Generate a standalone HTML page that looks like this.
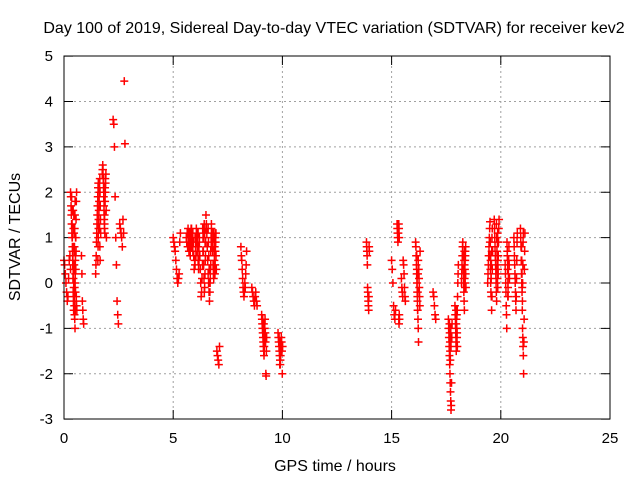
<!DOCTYPE html>
<html><head><meta charset="utf-8"><style>
body{margin:0;background:#fff}
svg{display:block;font-family:"Liberation Sans",sans-serif}
</style></head><body>
<svg id="chart" width="640" height="480" viewBox="0 0 640 480">
<text x="334" y="33" font-size="16" text-anchor="middle">Day 100 of 2019, Sidereal Day-to-day VTEC variation (SDTVAR) for receiver kev2</text>
<text transform="translate(20,237) rotate(-90)" font-size="16" text-anchor="middle">SDTVAR / TECUs</text>
<text x="335" y="471" font-size="16" text-anchor="middle">GPS time / hours</text>
<g id="grid"></g>
<g id="ticks"></g>
<g id="pts"></g>
<rect x="64" y="56" width="546" height="363" fill="none" stroke="#000" stroke-width="1"/>
</svg>
<script>
const xTicks=[0,5,10,15,20,25];
const yTicks=[-3,-2,-1,0,1,2,3,4,5];
// tracks: start time (h), step (h), SDTVAR values (TECU)
const trackStarts=[0.0,0.3,0.42,0.8,1.45,1.75,2.25,2.55,5.0,5.6,5.9,6.2,6.5,6.75,7.0,8.1,8.6,9.05,9.8,13.85,15.0,15.25,15.45,16.1,16.9,17.6,17.9,18.2,19.4,19.7,20.2,20.6,20.9,
 0.35,1.55,1.8,5.7,6.0,6.35,6.6,6.85,9.1,9.85,15.3,16.15,17.65,17.95,18.3,19.5,19.8,20.3,20.95,0.45];
const trackSteps=[0.03,0.012,0.012,0.02,0.012,0.012,0.03,0.03,0.03,0.02,0.02,0.02,0.02,0.015,0.03,0.02,0.03,0.012,0.015,0.01,0.03,0.01,0.02,0.012,0.03,0.012,0.012,0.012,0.015,0.012,0.012,0.012,0.012,
 0.01,0.01,0.01,0.02,0.02,0.015,0.015,0.012,0.01,0.01,0.01,0.01,0.01,0.01,0.01,0.012,0.012,0.012,0.01,0.01];
const trackValues=[
[0.5,0.4,0.2,0,-0.2,-0.4,-0.3,0.1,0.5,0.6,0.3],
[2.0,1.9,1.7,1.5,1.3,1.1,1.0,0.8,0.6,0.5,0.3,0.1,-0.1,-0.3,-0.5,-0.7,-0.5,-0.2,0.2,0.6,1.0,1.4,1.8,2.0],
[1.6,1.2,0.8,0.4,0,-0.4,-0.8,-1.0,-0.6,-0.2,0.3,0.7,-0.3,-0.5,-0.6],
[0.6,0.2,-0.4,-0.6,-0.8,-0.9],
[0.2,0.4,0.6,0.9,1.1,1.3,1.5,1.7,1.9,2.1,2.2,1.4,1.6,1.8,2.0,1.2,0.8,0.5],
[2.4,2.5,2.6,2.5,2.3,2.1,1.9,1.7,1.5,1.3,1.1,1.8,2.0,2.2,2.4,1.6,1.0],
[3.6,3.5,3.0,1.9,1.0,0.4,-0.4,-0.7,-0.9],
[1.3,1.2,1.1,1.0,0.8,1.4,1.1,4.45,3.07],
[1.0,0.9,0.8,0.7,0.5,0.3,0.1,0.0,0.1,0.2,0.9,1.1],
[1.0,0.9,1.1,0.8,1.2,1.0,0.7,0.9,1.1,0.6,1.0,0.8,1.2,0.9,1.1,0.7],
[1.1,0.9,0.6,0.3,0.5,0.4,0.8,1.0,1.2,0.9,0.7,1.0,1.1,0.8,0.5,0.6],
[0.9,0.6,0.3,0.0,-0.3,-0.2,0.1,0.4,0.7,1.0,1.2,1.3,1.1,0.9,0.6],
[1.5,1.3,1.1,0.8,0.5,0.2,0.0,-0.2,-0.4,-0.2,0.1,0.4,0.8,1.1],
[1.2,1.0,1.1,0.9,0.7,0.4,0.2,0.1,0.3,0.5,0.8,1.0,1.1,0.9,0.6,0.3],
[-1.5,-1.6,-1.7,-1.8,-1.4],
[0.8,0.6,0.5,0.3,0.1,-0.1,-0.2,-0.3,-0.2,0.0,-0.1,0.2,0.4,0.7],
[-0.1,-0.2,-0.3,-0.4,-0.5,-0.3,-0.2,-0.4,-0.5],
[-0.7,-0.8,-0.9,-1.0,-1.1,-1.2,-1.3,-1.4,-1.5,-1.6,-1.4,-1.2,-1.0,-0.8,-1.1,-1.3,-2.0,-2.05,-1.5,-1.2],
[-1.1,-1.2,-1.3,-1.4,-1.5,-1.6,-1.7,-1.8,-1.6,-1.4,-1.2,-1.3,-1.5,-2.0,-1.4],
[0.9,0.8,0.7,0.6,0.4,-0.1,-0.2,-0.3,-0.4,-0.5,-0.6,-0.3,0.8,0.7],
[0.5,0.3,0.0,-0.5,-0.7,-0.8,-0.6],
[1.3,1.2,1.1,1.0,0.9,1.2,1.3,1.0,-0.8,-0.9,-0.7,-0.8],
[0.1,-0.1,-0.2,-0.3,0.5,0.4,0.2,-0.1,-0.3,-0.4],
[0.9,0.8,0.6,0.4,0.2,0.0,-0.2,-0.4,-0.6,-0.8,-1.0,-1.3,0.3,0.1,-0.1,-0.3,-0.5,0.7],
[-0.2,-0.3,-0.5,-0.7,-0.8],
[-0.8,-1.0,-1.2,-1.4,-1.6,-1.8,-2.0,-2.2,-2.4,-2.6,-2.8,-2.7,-2.2,-1.2,-0.9],
[-0.5,-0.7,-0.9,-1.1,-1.3,-1.5,-0.8,-1.0,-1.2,-0.6,-0.3,0.0,0.2,0.4],
[0.0,0.2,0.4,0.6,0.8,0.9,0.6,0.3,0.0,-0.2,-0.4,-0.6,0.1,0.3,0.5,0.7,0.2,-0.1],
[0.0,0.2,0.4,0.6,0.8,1.0,1.2,1.35,0.9,0.5,0.1,-0.3,-0.6,-0.3,0.3,0.7],
[1.4,1.2,1.0,0.8,0.6,0.4,0.2,0.0,-0.2,-0.4,0.3,0.6,0.9,1.1,0.5,0.2],
[0.4,0.2,0.0,-0.2,-0.5,-0.7,-1.0,0.9,0.7,0.5,-0.3,-0.1],
[1.0,0.8,0.6,0.4,0.2,0.0,-0.2,-0.4,-0.6,-0.3,0.1,0.5,0.9,1.1],
[1.2,1.0,0.8,0.5,0.2,0.0,-0.2,-0.6,-1.0,-1.2,-1.4,-1.6,-2.0,-1.3,-0.8,0.3,0.7,1.1],
[1.9,1.6,1.3,1.0,0.7,0.4,0.1,-0.2,-0.4,-0.6,-0.3,0.0,0.4,0.8,1.2,1.5,1.8],
[0.5,0.8,1.0,1.2,1.4,1.6,1.8,2.0,2.2,2.3,2.0,1.7,1.4,1.1],
[2.3,2.1,1.9,1.6,1.4,1.2,1.5,1.8,2.1,2.3],
[0.8,1.0,1.1,0.9,0.7,1.0,1.2,1.1,0.9,0.8,1.0],
[1.0,0.8,0.6,0.9,1.1,1.0,0.8,0.5,0.3,0.7,1.0],
[1.2,1.0,0.7,0.4,0.1,-0.2,-0.1,0.2,0.5,0.9,1.2],
[1.2,0.9,0.6,0.3,0.0,-0.2,0.0,0.3,0.7,1.0,1.3],
[1.1,1.0,0.8,0.6,0.4,0.2,0.4,0.7,0.9,1.1],
[-0.8,-1.0,-1.2,-1.4,-1.1,-0.9,-1.3,-1.5,-1.0],
[-1.2,-1.4,-1.6,-1.8,-1.5,-1.3,-1.7,-1.4],
[1.2,1.1,1.0,1.3,1.2,1.0],
[0.6,0.3,0.0,-0.3,-0.6,-0.2,0.2,0.5],
[-0.9,-1.1,-1.3,-1.5,-1.7,-1.2,-1.0,-1.4],
[-0.6,-0.9,-1.2,-1.0,-0.7,-1.1,-1.4],
[0.1,0.3,0.5,0.7,0.4,0.2,-0.1,0.0,0.6,0.8],
[0.9,0.6,0.3,0.0,-0.2,0.1,0.4,0.7,1.0,1.2],
[1.3,1.0,0.7,0.4,0.1,-0.1,0.3,0.6,0.9,1.2,1.4],
[0.6,0.3,0.0,-0.3,0.2,0.5,0.8,0.4,0.1],
[0.8,0.5,0.2,-0.1,-0.4,0.0,0.4,0.9,1.1],
[1.5,1.1,0.7,0.3,-0.1,-0.5,0.0,0.5,1.0]
];
const X=h=>64+h*546/25, Y=v=>283-v*363/8;
const NS='http://www.w3.org/2000/svg';
const grid=document.getElementById('grid'),ticks=document.getElementById('ticks'),pts=document.getElementById('pts');
function mk(tag,attrs,parent){const e=document.createElementNS(NS,tag);for(const k in attrs)e.setAttribute(k,attrs[k]);parent.appendChild(e);return e;}
xTicks.forEach(t=>{const x=X(t);
 if(t>0&&t<25){const g=mk('line',{x1:x,x2:x,y1:56,y2:419,stroke:'#a0a0a0','stroke-dasharray':'2,3'},grid);
 
 }
 mk('line',{x1:x,x2:x,y1:419,y2:410,stroke:'#000'},ticks);
 mk('line',{x1:x,x2:x,y1:56,y2:65,stroke:'#000'},ticks);
 const l=mk('text',{x:x,y:443,'font-size':15,'text-anchor':'middle'},ticks);l.textContent=t;
 
 
});
yTicks.forEach(t=>{const y=Y(t);
 if(t>-3&&t<5){const g=mk('line',{x1:64,x2:610,y1:y,y2:y,stroke:'#a0a0a0','stroke-dasharray':'2,3'},grid);
 
 }
 mk('line',{x1:64,x2:73,y1:y,y2:y,stroke:'#000'},ticks);
 mk('line',{x1:610,x2:601,y1:y,y2:y,stroke:'#000'},ticks);
 const l=mk('text',{x:53,y:y+5,'font-size':15,'text-anchor':'end'},ticks);l.textContent=t;
 
 
});
let d='';
trackValues.forEach((vals,i)=>{vals.forEach((v,j)=>{const x=X(trackStarts[i]+j*trackSteps[i]),y=Y(v);
 d+=`M${x-4},${y}h8M${x},${y-4}v8`;});});
const p=mk('path',{d:d,stroke:'#ff0000','stroke-width':1.5,fill:'none'},pts);


</script>
</body></html>
